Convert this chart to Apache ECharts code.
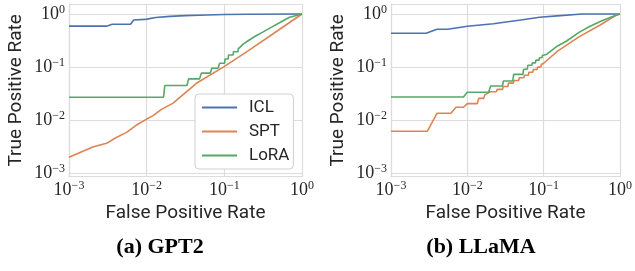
<!DOCTYPE html>
<html><head><meta charset="utf-8">
<script src="https://cdn.jsdelivr.net/npm/echarts@6/dist/echarts.min.js"></script>
<style>html,body{margin:0;padding:0;background:#fff}#c{width:635px;height:271px}</style>
</head><body><div id="c"></div>
<script>
// ---- data ----
const seriesNames = ['ICL', 'SPT', 'LoRA'];
const panelTitles = ['(a) GPT2', '(b) LLaMA'];
const xAxisTitle = 'False Positive Rate';
const yAxisTitle = 'True Positive Rate';

const gpt2ICL = [[0.001,0.59],[0.00305,0.59],[0.0036,0.64],[0.0062,0.64],[0.0068,0.77],[0.0095,0.79],[0.0105,0.81],[0.013,0.86],[0.02,0.9],[0.031,0.93],[0.06,0.96],[0.1,0.98],[0.2,0.99],[1,1]];
const gpt2SPT = [[0.001,0.002],[0.00206,0.00316],[0.00305,0.00367],[0.0039,0.00456],[0.0055,0.0059],[0.0074,0.0081],[0.01,0.0105],[0.0121,0.0122],[0.0155,0.016],[0.0219,0.021],[0.0437,0.0495],[0.097,0.1],[0.2,0.2],[0.5,0.5],[1,1]];
const gpt2LoRA = [[0.001,0.027],[0.0165,0.027],[0.0171,0.045],[0.033,0.045],[0.0347,0.06],[0.048,0.06],[0.0506,0.077],[0.066,0.077],[0.069,0.095],[0.083,0.095],[0.087,0.118],[0.101,0.118],[0.102,0.142],[0.112,0.142],[0.113,0.169],[0.13,0.169],[0.131,0.195],[0.15,0.195],[0.151,0.22],[0.175,0.27],[0.2,0.31],[0.25,0.38],[0.316,0.46],[0.4,0.56],[0.52,0.69],[0.69,0.87],[1,1]];

const llamaICL = [[0.001,0.433],[0.00289,0.433],[0.004,0.515],[0.0055,0.515],[0.0071,0.545],[0.01,0.586],[0.022,0.657],[0.05,0.77],[0.0885,0.867],[0.15,0.92],[0.32,1],[1,1]];
const llamaSPT = [[0.001,0.0062],[0.003,0.0062],[0.004,0.0135],[0.0061,0.0135],[0.0071,0.0175],[0.0089,0.0175],[0.01,0.0205],[0.0135,0.0205],[0.0141,0.0258],[0.0164,0.0258],[0.017,0.03],[0.02,0.0344],[0.024,0.0344],[0.0245,0.038],[0.029,0.038],[0.0295,0.043],[0.034,0.043],[0.0345,0.05],[0.04,0.05],[0.041,0.056],[0.047,0.056],[0.048,0.063],[0.055,0.063],[0.056,0.07],[0.063,0.07],[0.064,0.08],[0.072,0.08],[0.073,0.09],[0.082,0.09],[0.083,0.1],[0.092,0.1],[0.093,0.112],[0.1,0.118],[0.152,0.2],[0.29,0.37],[0.55,0.62],[0.91,0.96],[1,1]];
const llamaLoRA = [[0.001,0.0273],[0.0089,0.0273],[0.01,0.0335],[0.019,0.0335],[0.0202,0.044],[0.0288,0.044],[0.0297,0.0547],[0.0393,0.0547],[0.0405,0.073],[0.0535,0.073],[0.0545,0.091],[0.061,0.091],[0.062,0.108],[0.07,0.108],[0.071,0.12],[0.078,0.12],[0.079,0.135],[0.087,0.135],[0.088,0.15],[0.095,0.15],[0.096,0.165],[0.11,0.175],[0.152,0.25],[0.2,0.31],[0.29,0.45],[0.4,0.58],[0.55,0.72],[0.8,0.9],[1,1]];

const panels = [[gpt2ICL, gpt2SPT, gpt2LoRA], [llamaICL, llamaSPT, llamaLoRA]];

// ---- style ----
const colors = ['#4c72b0', '#dd8452', '#55a868'];
const GRID_C = '#dcdcdc';
const TXT = '#262626';
const SANS = 'Roboto';
const SERIF = 'Liberation Serif';
const Y_MIN = Math.pow(10, -3.064), Y_MAX = Math.pow(10, 0.188);
const gridPos = [{left: 69, top: 4, width: 233, height: 172.7}, {left: 391, top: 4, width: 232.3, height: 172.7}];
const captionX = [160, 481];

function fmt(v) {
  const e = Math.log10(v), r = Math.round(e);
  if (Math.abs(e - r) > 1e-6) return '';
  return '{b|10}{s|' + (r < 0 ? '\u2212' + (-r) : String(r)) + '}';
}
const rich = {
  b: {fontFamily: SERIF, fontSize: 18, color: TXT, lineHeight: 21},
  s: {fontFamily: SERIF, fontSize: 12, color: TXT, lineHeight: 10, verticalAlign: 'top'}
};
const lineStyle = {color: GRID_C, width: 1.2};

const grid = [], xAxis = [], yAxis = [], series = [], graphic = [];
panels.forEach((p, i) => {
  grid.push(Object.assign({}, gridPos[i]));
  xAxis.push({
    type: 'log', logBase: 10, gridIndex: i, min: 0.001, max: 1,
    axisLine: {show: true, lineStyle}, axisTick: {show: false},
    splitLine: {show: true, lineStyle}, minorTick: {show: false}, minorSplitLine: {show: false},
    axisLabel: {formatter: fmt, rich, margin: 3, hideOverlap: false},
    name: xAxisTitle, nameLocation: 'middle', nameGap: 26,
    nameTextStyle: {fontFamily: SANS, fontSize: 19, color: TXT}
  });
  yAxis.push({
    type: 'log', logBase: 10, gridIndex: i, min: Y_MIN, max: Y_MAX,
    axisLine: {show: true, lineStyle}, axisTick: {show: false},
    splitLine: {show: true, lineStyle}, minorTick: {show: false}, minorSplitLine: {show: false},
    axisLabel: {formatter: fmt, rich, margin: 4},
    name: yAxisTitle, nameLocation: 'middle', nameGap: 43,
    nameTextStyle: {fontFamily: SANS, fontSize: 19, color: TXT}
  });
  p.forEach((d, k) => {
    series.push({
      name: seriesNames[k], type: 'line', xAxisIndex: i, yAxisIndex: i, data: d,
      showSymbol: false, symbol: 'none', color: colors[k],
      lineStyle: {color: colors[k], width: 1.6}, emphasis: {disabled: true}, z: 3
    });
  });
  graphic.push({
    type: 'text', x: captionX[i], y: 247,
    style: {text: panelTitles[i], textAlign: 'center', textVerticalAlign: 'middle',
      font: 'bold 22px "Liberation Serif"', fill: '#000'}
  });
});

const chart = echarts.init(document.getElementById('c'), null, {renderer: 'canvas'});
chart.setOption({
  animation: false,
  backgroundColor: '#fff',
  color: colors,
  grid, xAxis, yAxis, series, graphic,
  legend: {
    data: seriesNames, orient: 'vertical', left: 195, top: 94,
    icon: 'rect', itemWidth: 35, itemHeight: 2, itemGap: 7,
    padding: [5, 4, 5, 7], backgroundColor: '#fff', borderColor: '#d0d0d0', borderWidth: 1, borderRadius: 4,
    textStyle: {fontFamily: SANS, fontSize: 17, color: TXT, lineHeight: 17, padding: [0, 0, 0, 7]},
    selectedMode: false
  }
});
</script></body></html>
